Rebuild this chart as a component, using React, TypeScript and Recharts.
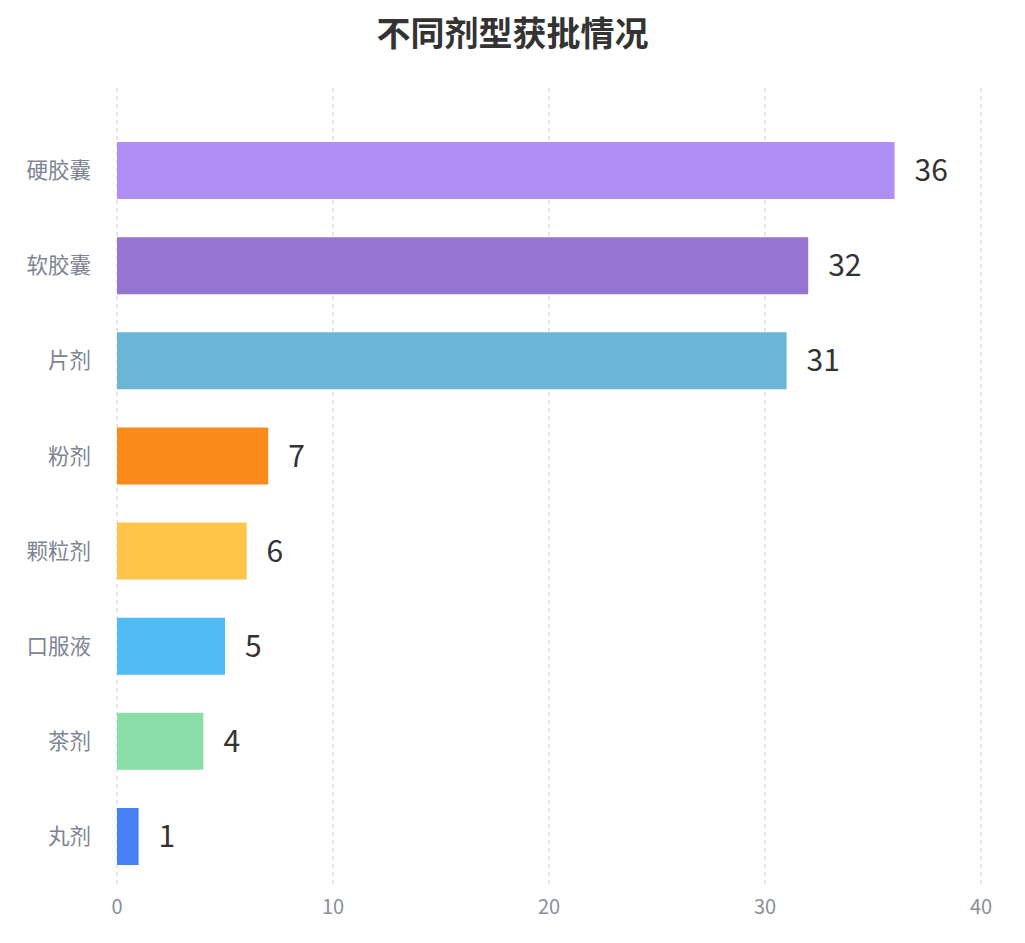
import React from 'react';
import { BarChart, Bar, Cell, XAxis, YAxis, CartesianGrid, LabelList } from 'recharts';

const categories = ['硬胶囊', '软胶囊', '片剂', '粉剂', '颗粒剂', '口服液', '茶剂', '丸剂'];
const counts = [36, 32, 31, 7, 6, 5, 4, 1];
const barColors = ['#b08ff5', '#9575d0', '#6bb6d6', '#fa8a1a', '#ffc54a', '#50bbf5', '#8cdea8', '#4a80f6'];
const xTicks = [0, 10, 20, 30, 40];

const data = categories.map((name, i) => ({ name, value: counts[i] }));

const FONT = '"Noto Sans CJK SC", "Noto Sans", sans-serif';

export default function App() {
  return (
    <div style={{ position: 'absolute', left: 0, top: 0, width: 1025, height: 943, background: '#fff', fontFamily: FONT }}>
      <div
        style={{
          position: 'absolute',
          top: 10,
          left: 0,
          width: 1025,
          textAlign: 'center',
          fontSize: 34,
          fontWeight: 700,
          color: '#333',
          lineHeight: '44px',
        }}
      >
        不同剂型获批情况
      </div>
      <BarChart
        width={1025}
        height={943}
        data={data}
        layout="vertical"
        margin={{ top: 88, right: 44, bottom: 0, left: 0 }}
        barCategoryGap="20%"
      >
        <CartesianGrid horizontal={false} stroke="#cccccc" strokeDasharray="4 4" />
        <XAxis
          type="number"
          domain={[0, 40]}
          ticks={xTicks}
          axisLine={false}
          tickLine={false}
          tick={{ fill: '#8a8f99', fontSize: 20, fontFamily: FONT }}
          tickMargin={10}
          height={59}
        />
        <YAxis
          type="category"
          dataKey="name"
          width={117}
          axisLine={false}
          tickLine={false}
          padding={{ top: 35, bottom: 0 }}
          tick={{ fill: '#7d8593', fontSize: 21.5, fontFamily: FONT }}
          tickMargin={20}
        />
        <Bar dataKey="value" isAnimationActive={false}>
          {data.map((d, i) => (
            <Cell key={d.name} fill={barColors[i]} />
          ))}
          <LabelList
            dataKey="value"
            position="right"
            offset={20}
            style={{ fill: '#333', fontSize: 30, fontFamily: FONT }}
          />
        </Bar>
      </BarChart>
    </div>
  );
}
